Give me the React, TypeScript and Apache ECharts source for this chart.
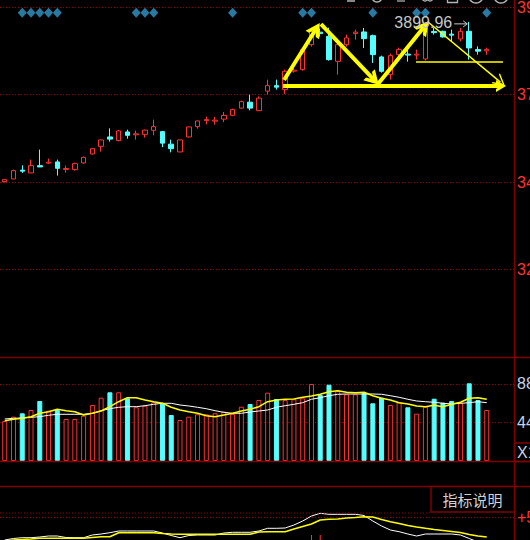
import React, { useEffect, useRef } from "react";
import * as echarts from "echarts";

// ---------- data ----------
const opens = [3461.4, 3468.8, 3493.0, 3485.3, 3505.3, 3512.2, 3515.5, 3494.9, 3494.4, 3512.7, 3537.4, 3558.3, 3584.1, 3574.0, 3597.8, 3589.9, 3591.2, 3602.2, 3598.7, 3564.3, 3542.9, 3584.1, 3612.4, 3628.9, 3627.5, 3633.0, 3643.4, 3663.2, 3679.6, 3656.3, 3709.8, 3724.9, 3713.9, 3764.7, 3768.9, 3837.5, 3871.8, 3860.3, 3791.6, 3837.5, 3867.7, 3872.3, 3862.2, 3803.7, 3755.1, 3810.0, 3811.4, 3808.7, 3798.2, 3873.7, 3874.0, 3866.3, 3853.1, 3874.0, 3823.8, 3820.2];
const closes = [3466.9, 3491.6, 3490.2, 3505.3, 3501.8, 3514.9, 3497.9, 3497.6, 3510.8, 3528.1, 3552.0, 3575.9, 3578.1, 3600.6, 3588.5, 3592.6, 3602.8, 3612.4, 3567.1, 3552.0, 3575.9, 3611.6, 3628.0, 3631.6, 3630.2, 3643.1, 3659.1, 3681.0, 3663.2, 3690.6, 3724.9, 3720.8, 3764.2, 3767.5, 3823.8, 3874.0, 3867.7, 3796.3, 3837.5, 3855.9, 3871.8, 3853.9, 3810.0, 3764.2, 3807.3, 3823.8, 3808.7, 3811.4, 3883.3, 3870.4, 3858.6, 3863.5, 3874.0, 3828.4, 3819.6, 3823.8];
const lows = [3458.7, 3468.3, 3485.3, 3484.7, 3501.2, 3509.4, 3477.9, 3486.1, 3491.6, 3510.8, 3535.5, 3543.8, 3571.2, 3572.6, 3579.4, 3576.7, 3582.2, 3588.5, 3556.1, 3541.8, 3542.4, 3582.2, 3606.9, 3618.7, 3617.9, 3624.7, 3641.2, 3661.8, 3657.1, 3654.9, 3700.2, 3713.9, 3702.1, 3760.6, 3766.1, 3832.0, 3859.4, 3793.6, 3755.1, 3832.0, 3851.2, 3828.4, 3787.2, 3760.6, 3741.4, 3807.3, 3790.8, 3796.3, 3793.6, 3864.9, 3856.7, 3846.5, 3846.5, 3796.3, 3810.0, 3810.0];
const highs = [3468.3, 3494.4, 3506.2, 3521.8, 3549.3, 3524.5, 3521.8, 3505.3, 3513.6, 3530.0, 3553.4, 3576.7, 3607.7, 3602.8, 3604.2, 3601.4, 3604.2, 3631.6, 3600.6, 3576.7, 3576.7, 3612.4, 3628.9, 3639.8, 3639.0, 3652.7, 3661.8, 3683.8, 3700.2, 3695.6, 3741.4, 3741.4, 3768.9, 3774.3, 3826.5, 3884.1, 3881.4, 3884.1, 3840.2, 3864.9, 3878.7, 3883.3, 3864.9, 3807.3, 3812.8, 3829.2, 3823.8, 3823.8, 3899.2, 3884.1, 3875.9, 3878.7, 3883.3, 3899.96, 3832.8, 3829.2];

const volumes = [4572, 5063, 5452, 5829, 6857, 5749, 5829, 4800, 4800, 5177, 6400, 7235, 7852, 7852, 7166, 6137, 6320, 6709, 6594, 5257, 4686, 5063, 5337, 5337, 5452, 5634, 5372, 6206, 6514, 6972, 7806, 7086, 6972, 7052, 7166, 8800, 7543, 8720, 8035, 7623, 7623, 7806, 6594, 7235, 6400, 6709, 6137, 5406, 6206, 7120, 6663, 6857, 6663, 8880, 6972, 5829];
const volMaYellow = [4606, 4766, 4880, 5063, 5452, 5634, 5909, 5749, 5634, 5257, 5452, 5714, 6206, 6777, 7235, 7235, 6972, 6777, 6594, 6137, 5829, 5634, 5452, 5177, 5063, 5257, 5452, 5714, 5909, 6206, 6777, 6972, 7052, 7086, 7280, 7429, 7623, 7920, 8035, 7852, 7806, 7852, 7463, 7166, 6972, 6663, 6514, 6286, 6206, 6366, 6206, 6480, 6709, 7166, 7235, 7052];
const volMaWhite = [4800, 4880, 4914, 4994, 5063, 5223, 5337, 5337, 5337, 5337, 5452, 5749, 5977, 6137, 6206, 6206, 6320, 6480, 6594, 6594, 6400, 6286, 6137, 5977, 5749, 5566, 5452, 5452, 5600, 5714, 5829, 6137, 6320, 6480, 6663, 7052, 7235, 7463, 7623, 7657, 7657, 7657, 7657, 7623, 7463, 7280, 7052, 6857, 6777, 6709, 6594, 6514, 6594, 6663, 6777, 6663];

const indWhite = [27, 28.5, 29.3, 29.3, 30, 31, 31, 29.5, 29.3, 29.3, 32, 33, 34.3, 36, 36, 36, 36, 36, 34, 31.5, 29.3, 31.5, 32, 32, 32, 34, 34.7, 34.7, 34.7, 36, 38.7, 38.7, 39, 42, 46, 51, 53.7, 52.7, 52.7, 52.7, 52.7, 51.5, 46, 41, 37, 35.3, 33, 31, 33, 33, 33, 33, 32, 28.5, 25, 23];
const indYellow = [26, 27, 27.5, 28, 28.7, 28.7, 28.7, 28.7, 28.7, 28.7, 29.5, 30.3, 30.3, 34.3, 34.3, 34.3, 34.3, 34.3, 33.5, 33, 32.7, 32.7, 32.7, 32.7, 32.7, 32.7, 32.7, 32.7, 32.7, 35, 35.3, 35.3, 35.3, 38, 40.5, 43, 47, 47.7, 48, 49, 49.5, 50.3, 50, 47.5, 45.3, 43.5, 41.5, 40, 38.7, 37.5, 36.5, 35.5, 34.5, 32.5, 31, 30];
const indBarIdx = [35, 36];
const indBarValues = [32, 32];

const signalIdx = [2, 3, 4, 5, 6, 15, 16, 17, 26, 34, 35, 42, 47, 48, 55];
const signalLevel = 3925;

const priceTicks = { min: 2980, max: 3960, step: 240 };
const volTicks = { min: 0, max: 11770, step: 4400 };
const indTicks = { min: -27, max: 81, step: 77 };

// user-drawn trend lines, in (bar index, price)
const thickTrendLines = [
  [[31.87, 3740.4], [35.52, 3880.4]],
  [[36.09, 3894.1], [42.12, 3741.2]],
  [[42.59, 3729.4], [47.86, 3886.7]],
  [[31.75, 3723.9], [56.63, 3723.9]],
];
const thinArrowLines = [[[48.3, 3899.6], [56.56, 3734.4]]];
const thinPlainLines = [[[46.93, 3791.2], [56.85, 3791.2]]];

// ---------- styles ----------
const RED = "#ff3232";
const CYAN = "#54ffff";
const GRID_RED = "#9a0000";
const BORDER = "#800000";
const YELLOW = "#ffff00";
const FONT = "'Liberation Sans', Arial, sans-serif";
const X_MIN = -0.54;
const X_MAX = 58.11;
const CHEV_THICK = "path://M0,12L6,0L12,12L9,12L6,6L3,12Z";
const CHEV_THIN = "path://M0,12L6,0L12,12L10.5,12L6,3L1.5,12Z";

export default function App() {
  const ref = useRef<HTMLDivElement>(null);
  useEffect(() => {
    document.body.style.margin = "0";
    document.body.style.background = "#000";
    const chart = echarts.init(ref.current!, null, { renderer: "svg" });

    const candleData = opens.map((o, i) => [i, o, closes[i], lows[i], highs[i]]);
    const upStyle = { color: "#000", borderColor: RED, borderWidth: 1 };
    const downStyle = { color: CYAN, borderColor: CYAN, borderWidth: 1 };
    const volData = volumes.map((v, i) => ({
      value: [i, v],
      itemStyle: closes[i] >= opens[i] ? upStyle : downStyle,
    }));

    const hiddenX = (g: number) => ({ gridIndex: g, type: "value", min: X_MIN, max: X_MAX, show: false });
    const yBase = (g: number, t: { min: number; max: number; step: number }, labelColor: string, fmt: (v: number) => string) => ({
      gridIndex: g,
      type: "value",
      position: "right",
      min: t.min,
      max: t.max,
      interval: t.step,
      axisLine: { show: false },
      axisTick: { show: false },
      axisLabel: {
        color: labelColor,
        fontSize: 16,
        fontFamily: FONT,
        margin: 3,
        showMinLabel: false,
        showMaxLabel: false,
        hideOverlap: false,
        formatter: fmt,
      },
      splitLine: {
        show: true,
        showMinLine: false,
        showMaxLine: false,
        lineStyle: { color: GRID_RED, type: [1, 2], width: 1 },
      },
    });
    const gridBox = (top: number, height: number) => ({
      left: 0,
      top,
      width: 514,
      height,
      containLabel: false,
      outerBoundsMode: "none",
    });

    const option: any = {
      animation: false,
      backgroundColor: "#000",
      textStyle: { fontFamily: FONT },
      grid: [gridBox(0, 357), gridBox(358, 103), gridBox(486, 108)],
      xAxis: [hiddenX(0), hiddenX(1), hiddenX(2)],
      yAxis: [
        yBase(0, priceTicks, RED, (v: number) => String(v)),
        yBase(1, volTicks, "#c4d2ea", (v: number) => String(v)),
        yBase(2, indTicks, RED, (v: number) => (v > 0 ? "+" : "") + v.toFixed(2)),
      ],
      series: [
        {
          type: "candlestick",
          xAxisIndex: 0,
          yAxisIndex: 0,
          encode: { x: 0, y: [1, 2, 3, 4] },
          barWidth: 5,
          data: candleData,
          itemStyle: { color: "#000", color0: CYAN, borderColor: RED, borderColor0: CYAN, borderWidth: 1 },
          silent: true,
          z: 3,
        },
        {
          type: "scatter",
          xAxisIndex: 0,
          yAxisIndex: 0,
          symbol: "diamond",
          symbolSize: [9, 10],
          itemStyle: { color: "#3399cc" },
          data: signalIdx.map((i) => [i, signalLevel]),
          silent: true,
          z: 4,
        },
        {
          type: "line",
          xAxisIndex: 0,
          yAxisIndex: 0,
          data: [],
          silent: true,
          z: 6,
          markLine: {
            silent: true,
            animation: false,
            symbol: ["none", CHEV_THICK],
            symbolSize: 14,
            label: { show: false },
            emphasis: { disabled: true },
            lineStyle: { color: YELLOW, width: 4, type: "solid" },
            data: thickTrendLines.map(([a, b], k) => [
              { coord: a, symbol: "none" },
              { coord: b, symbol: CHEV_THICK, symbolSize: k === 3 ? [12, 10] : [16, 14] },
            ]),
          },
        },
        {
          type: "line",
          xAxisIndex: 0,
          yAxisIndex: 0,
          data: [],
          silent: true,
          z: 6,
          markLine: {
            silent: true,
            animation: false,
            symbol: ["none", "none"],
            label: { show: false },
            emphasis: { disabled: true },
            lineStyle: { color: YELLOW, width: 1.5, type: "solid" },
            data: [
              ...thinArrowLines.map(([a, b]) => [
                { coord: a, symbol: "none" },
                { coord: b, symbol: CHEV_THIN, symbolSize: [13, 12] },
              ]),
              ...thinPlainLines.map(([a, b]) => [
                { coord: a, symbol: "none" },
                { coord: b, symbol: "none" },
              ]),
            ],
          },
        },
        {
          type: "bar",
          xAxisIndex: 1,
          yAxisIndex: 1,
          barWidth: 5,
          data: volData,
          silent: true,
        },
        {
          type: "line",
          xAxisIndex: 1,
          yAxisIndex: 1,
          data: volMaWhite.map((v, i) => [i, v]),
          showSymbol: false,
          lineStyle: { color: "#ffffff", width: 1 },
          silent: true,
          z: 4,
        },
        {
          type: "line",
          xAxisIndex: 1,
          yAxisIndex: 1,
          data: volMaYellow.map((v, i) => [i, v]),
          showSymbol: false,
          lineStyle: { color: YELLOW, width: 1.5 },
          silent: true,
          z: 5,
        },
        {
          type: "bar",
          xAxisIndex: 2,
          yAxisIndex: 2,
          barWidth: 1,
          data: indBarIdx.map((i, k) => [i, indBarValues[k]]),
          itemStyle: { color: RED },
          silent: true,
        },
        {
          type: "line",
          xAxisIndex: 2,
          yAxisIndex: 2,
          data: indWhite.map((v, i) => [i, v]),
          showSymbol: false,
          lineStyle: { color: "#ffffff", width: 1 },
          silent: true,
        },
        {
          type: "line",
          xAxisIndex: 2,
          yAxisIndex: 2,
          data: indYellow.map((v, i) => [i, v]),
          showSymbol: false,
          lineStyle: { color: YELLOW, width: 1.5 },
          silent: true,
        },
      ],
    };
    chart.setOption(option);

    // max-price marker, positioned through the price scale
    let hiIdx = 0;
    highs.forEach((h, i) => {
      if (h > highs[hiIdx]) hiIdx = i;
    });
    const [hx, hy] = chart.convertToPixel({ xAxisIndex: 0, yAxisIndex: 0 }, [hiIdx, highs[hiIdx]]) as number[];

    const hline = (y: number, x1 = 0, x2 = 530) => ({
      type: "line",
      silent: true,
      z: 50,
      shape: { x1, y1: y, x2, y2: y },
      style: { stroke: BORDER, lineWidth: 1.5 },
    });
    const grey = "#b4b4b4";
    const graphic: any[] = [
      hline(357.5),
      hline(461.5),
      hline(486.5),
      {
        type: "line",
        silent: true,
        z: 50,
        shape: { x1: 514.5, y1: 0, x2: 514.5, y2: 540 },
        style: { stroke: BORDER, lineWidth: 1.5 },
      },
      {
        type: "line",
        silent: true,
        z: 40,
        shape: { x1: 0, y1: 513, x2: 431, y2: 513 },
        style: { stroke: GRID_RED, lineWidth: 1, lineDash: [1, 2] },
      },
      {
        type: "rect",
        silent: true,
        z: 50,
        shape: { x: 514.5, y: 443, width: 20, height: 18.5 },
        style: { fill: "none", stroke: BORDER, lineWidth: 1.5 },
      },
      {
        type: "text",
        silent: true,
        z: 51,
        style: { text: "X1", x: 517, y: 452.5, fill: "#c4d2ea", fontSize: 16, fontFamily: FONT, verticalAlign: "middle" },
      },
      {
        type: "rect",
        silent: true,
        z: 50,
        shape: { x: 431, y: 486.5, width: 83.5, height: 25.5 },
        style: { fill: "#000", stroke: BORDER, lineWidth: 1.5 },
      },
      {
        type: "text",
        silent: true,
        z: 51,
        style: {
          text: "指标说明",
          x: 472.5,
          y: 499.5,
          fill: "#d2d2d2",
          fontSize: 15,
          fontFamily: "'Noto Sans CJK SC', sans-serif",
          align: "center",
          verticalAlign: "middle",
        },
      },
      // partly hidden toolbar icons along the top edge
      { type: "circle", silent: true, z: 50, shape: { cx: 377, cy: -3, r: 5 }, style: { fill: "none", stroke: grey, lineWidth: 1.5 } },
      { type: "circle", silent: true, z: 50, shape: { cx: 476, cy: -4, r: 7 }, style: { fill: "none", stroke: grey, lineWidth: 1.5 } },
      { type: "circle", silent: true, z: 50, shape: { cx: 501, cy: -4, r: 7 }, style: { fill: "none", stroke: grey, lineWidth: 1.5 } },
      { type: "circle", silent: true, z: 50, shape: { cx: 425, cy: -2, r: 3 }, style: { fill: "none", stroke: grey, lineWidth: 1.2 } },
      { type: "circle", silent: true, z: 50, shape: { cx: 430, cy: -2, r: 3 }, style: { fill: "none", stroke: grey, lineWidth: 1.2 } },
      { type: "rect", silent: true, z: 50, shape: { x: 447.5, y: -6, width: 10, height: 8.5 }, style: { fill: "none", stroke: grey, lineWidth: 1.3 } },
      { type: "line", silent: true, z: 50, shape: { x1: 347, y1: 1, x2: 355, y2: 1 }, style: { stroke: grey, lineWidth: 1.5 } },
      { type: "line", silent: true, z: 50, shape: { x1: 397, y1: 1, x2: 405, y2: 1 }, style: { stroke: "#707070", lineWidth: 2 } },
      // high marker
      {
        type: "text",
        silent: true,
        z: 60,
        style: {
          text: highs[hiIdx].toFixed(2),
          x: hx - 17,
          y: hy + 0.5,
          fill: "#c8c8c8",
          fontSize: 16,
          fontFamily: FONT,
          align: "right",
          verticalAlign: "middle",
        },
      },
      {
        type: "line",
        silent: true,
        z: 60,
        shape: { x1: hx - 15, y1: hy + 2, x2: hx - 2, y2: hy + 2 },
        style: { stroke: "#c8c8c8", lineWidth: 1 },
      },
      {
        type: "polyline",
        silent: true,
        z: 60,
        shape: { points: [[hx - 6, hy - 1], [hx - 2, hy + 2], [hx - 6, hy + 5]] },
        style: { stroke: "#c8c8c8", lineWidth: 1, fill: "none" },
      },
    ];
    chart.setOption({ graphic });

    return () => chart.dispose();
  }, []);
  return <div ref={ref} style={{ width: 530, height: 540 }} />;
}
